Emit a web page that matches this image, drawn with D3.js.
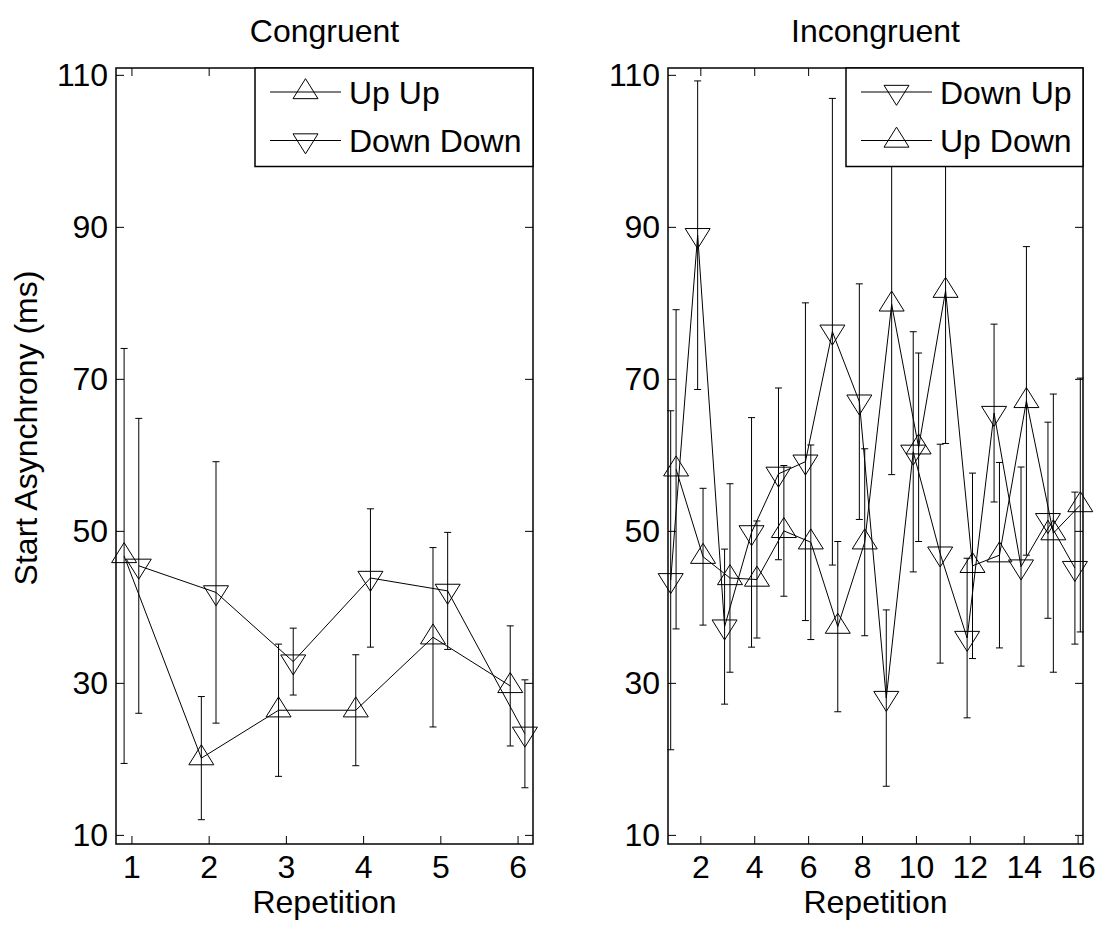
<!DOCTYPE html>
<html>
<head>
<meta charset="utf-8">
<script src="https://cdn.jsdelivr.net/npm/d3@7"></script>
<style>
  body { margin: 0; background: #fff; }
  text { font-family: "Liberation Sans", Arial, sans-serif; fill: #000; }
</style>
</head>
<body>
<script>
// repetitions and tick labels
var congruentReps = [1, 2, 3, 4, 5, 6];
var incongruentReps = [1, 2, 3, 4, 5, 6, 7, 8, 9, 10, 11, 12, 13, 14, 15, 16];
var congruentTicks = [1, 2, 3, 4, 5, 6];
var incongruentTicks = [2, 4, 6, 8, 10, 12, 14, 16];
var yTicks = [10, 30, 50, 70, 90, 110];

// congruent series (mean, error)
var upUpMean = [46.7, 20.1, 26.4, 26.4, 36.0, 29.6];
var upUpErr = [27.3, 8.1, 8.7, 7.3, 11.8, 7.9];
var downDownMean = [45.4, 41.9, 32.8, 43.8, 42.1, 23.3];
var downDownErr = [19.4, 17.2, 4.4, 9.1, 7.7, 7.1];

// incongruent series (mean, error)
var downUpMean = [43.5, 88.9, 37.4, 49.8, 57.5, 59.1, 76.2, 67.0, 28.0, 60.4, 47.0, 35.9, 65.5, 45.3, 51.4, 45.1];
var downUpErr = [22.3, 20.3, 10.2, 15.1, 11.3, 20.9, 30.7, 15.5, 11.6, 15.8, 14.4, 10.5, 11.7, 13.1, 12.9, 10.0];
var upDownMean = [58.1, 46.6, 43.8, 43.6, 50.0, 48.5, 37.4, 48.5, 79.8, 61.0, 81.6, 45.4, 46.8, 67.1, 49.7, 53.4];
var upDownErr = [21.0, 9.0, 12.4, 7.7, 8.6, 12.8, 11.2, 12.3, 22.4, 12.4, 20.1, 12.2, 12.2, 20.3, 18.3, 16.7];

var width = 1097, height = 929;
var plotTop = 68, plotBottom = 844;
var fontSize = 32;
var tickLen = 8;
var triW = 25, triH = 20;

var svg = d3.select("body").append("svg")
  .attr("width", width)
  .attr("height", height);

var y = d3.scaleLinear().domain([8.8, 110.9]).range([plotBottom, plotTop]);

function triangle(dir) {
  var a = 2 * triH / 3, b = triH / 3, w = triW / 2;
  if (dir == "up") return "M0," + (-a) + "L" + w + "," + b + "L" + (-w) + "," + b + "Z";
  return "M0," + a + "L" + w + "," + (-b) + "L" + (-w) + "," + (-b) + "Z";
}

var panels = [
  {
    title: "Congruent", left: 116, right: 533, domain: [0.8, 6.2], ticks: congruentTicks,
    legendLeft: 255, ylabel: true,
    series: [
      { name: "Up Up", x: congruentReps, mean: upUpMean, err: upUpErr, off: -0.095, dir: "up" },
      { name: "Down Down", x: congruentReps, mean: downDownMean, err: downDownErr, off: 0.095, dir: "down" }
    ]
  },
  {
    title: "Incongruent", left: 668, right: 1083, domain: [0.8, 16.2], ticks: incongruentTicks,
    legendLeft: 846, ylabel: false,
    series: [
      { name: "Down Up", x: incongruentReps, mean: downUpMean, err: downUpErr, off: -0.1, dir: "down" },
      { name: "Up Down", x: incongruentReps, mean: upDownMean, err: upDownErr, off: 0.1, dir: "up" }
    ]
  }
];

panels.forEach(function (p) {
  var x = d3.scaleLinear().domain(p.domain).range([p.left, p.right]);
  var g = svg.append("g");

  // axes, ticks pointing inward
  var ax = g.append("g").attr("class", "axes");
  ax.append("g").attr("transform", "translate(0," + plotBottom + ")")
    .call(d3.axisBottom(x).tickValues(p.ticks).tickSize(-tickLen).tickPadding(11).tickFormat(d3.format("d")));
  ax.append("g").attr("transform", "translate(0," + plotTop + ")")
    .call(d3.axisTop(x).tickValues(p.ticks).tickSize(-tickLen).tickFormat(""));
  ax.append("g").attr("transform", "translate(" + p.left + ",0)")
    .call(d3.axisLeft(y).tickValues(yTicks).tickSize(-tickLen).tickPadding(8).tickFormat(d3.format("d")));
  ax.append("g").attr("transform", "translate(" + p.right + ",0)")
    .call(d3.axisRight(y).tickValues(yTicks).tickSize(-tickLen).tickFormat(""));
  ax.selectAll(".domain").remove();
  ax.selectAll(".tick line").attr("stroke", "#000").attr("stroke-width", 1);
  ax.selectAll(".tick text").attr("font-size", fontSize)
    .attr("font-family", "'Liberation Sans', Arial, sans-serif").attr("fill", "#000");

  g.append("rect")
    .attr("x", p.left).attr("y", plotTop)
    .attr("width", p.right - p.left).attr("height", plotBottom - plotTop)
    .attr("fill", "none").attr("stroke", "#000").attr("stroke-width", 1.5);

  // series: error bars, line, markers
  p.series.forEach(function (s) {
    var pts = s.x.map(function (v, i) { return { x: v + s.off, m: s.mean[i], e: s.err[i] }; });
    var sg = g.append("g");
    var eb = sg.selectAll(".eb").data(pts).enter().append("g")
      .attr("stroke", "#000").attr("stroke-width", 1);
    eb.append("line")
      .attr("x1", function (d) { return x(d.x); }).attr("x2", function (d) { return x(d.x); })
      .attr("y1", function (d) { return y(d.m - d.e); }).attr("y2", function (d) { return y(d.m + d.e); });
    eb.append("line")
      .attr("x1", function (d) { return x(d.x) - 3.5; }).attr("x2", function (d) { return x(d.x) + 3.5; })
      .attr("y1", function (d) { return y(d.m + d.e); }).attr("y2", function (d) { return y(d.m + d.e); });
    eb.append("line")
      .attr("x1", function (d) { return x(d.x) - 3.5; }).attr("x2", function (d) { return x(d.x) + 3.5; })
      .attr("y1", function (d) { return y(d.m - d.e); }).attr("y2", function (d) { return y(d.m - d.e); });

    sg.append("path")
      .datum(pts)
      .attr("fill", "none").attr("stroke", "#000").attr("stroke-width", 1)
      .attr("d", d3.line().x(function (d) { return x(d.x); }).y(function (d) { return y(d.m); }));

    sg.selectAll(".mk").data(pts).enter().append("path")
      .attr("transform", function (d) { return "translate(" + x(d.x) + "," + y(d.m) + ")"; })
      .attr("d", triangle(s.dir))
      .attr("fill", "none").attr("stroke", "#000").attr("stroke-width", 1);
  });

  // legend
  var lg = g.append("g");
  lg.append("rect")
    .attr("x", p.legendLeft).attr("y", plotTop)
    .attr("width", p.right - p.legendLeft).attr("height", 98.5)
    .attr("fill", "#fff").attr("stroke", "#000").attr("stroke-width", 1.5);
  p.series.forEach(function (s, i) {
    var ry = 92 + i * 48.5;
    var lx = p.legendLeft + 15;
    lg.append("line").attr("x1", lx).attr("x2", lx + 71).attr("y1", ry).attr("y2", ry)
      .attr("stroke", "#000").attr("stroke-width", 1);
    lg.append("path").attr("transform", "translate(" + (lx + 35.5) + "," + ry + ")")
      .attr("d", triangle(s.dir)).attr("fill", "none").attr("stroke", "#000").attr("stroke-width", 1);
    lg.append("text").attr("x", lx + 79).attr("y", ry + 11.5)
      .attr("font-size", fontSize).text(s.name);
  });

  // title and labels
  g.append("text")
    .attr("x", (p.left + p.right) / 2).attr("y", 42)
    .attr("text-anchor", "middle").attr("font-size", fontSize).text(p.title);
  g.append("text")
    .attr("x", (p.left + p.right) / 2).attr("y", 913)
    .attr("text-anchor", "middle").attr("font-size", fontSize).text("Repetition");
  if (p.ylabel) {
    g.append("text")
      .attr("transform", "translate(37,428) rotate(-90)")
      .attr("text-anchor", "middle").attr("font-size", fontSize).text("Start Asynchrony (ms)");
  }
});
</script>
</body>
</html>
